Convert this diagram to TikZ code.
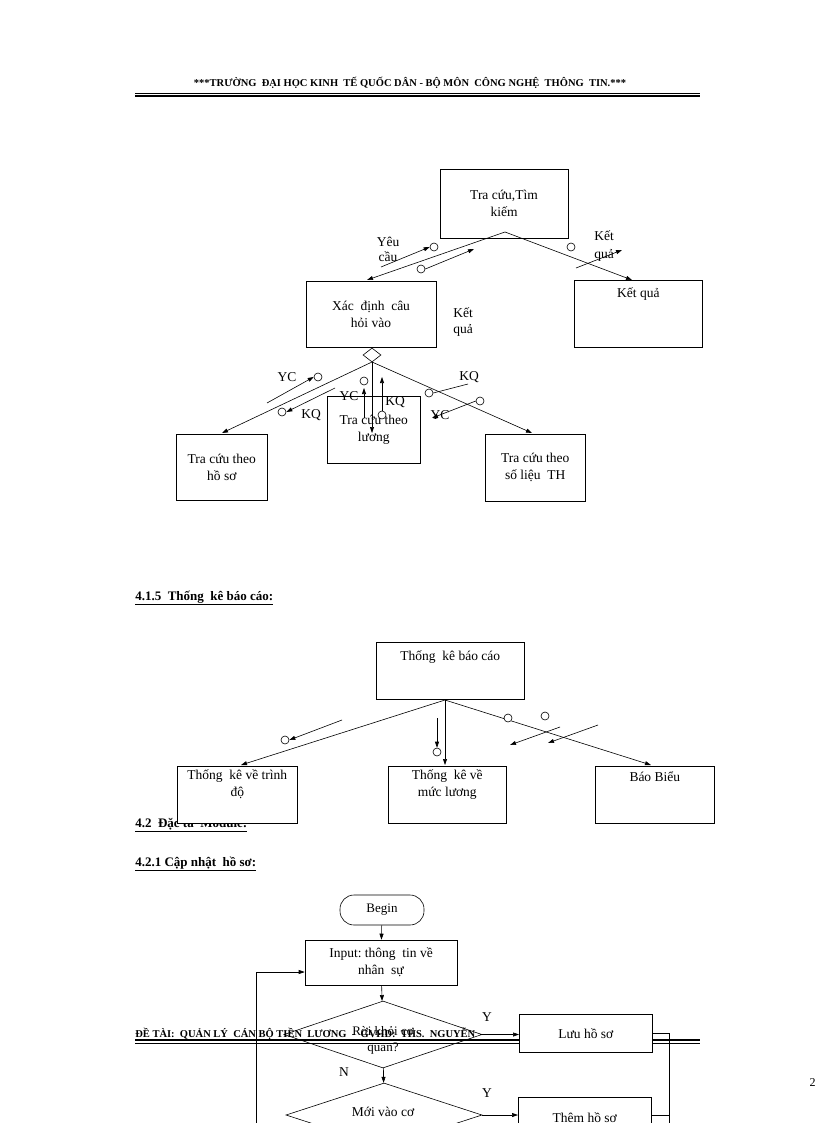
\documentclass[tikz,border=0pt]{standalone}
\usepackage{fontspec}
\setmainfont{Liberation Serif}
\usetikzlibrary{shapes.geometric,arrows.meta}
\begin{document}
\begin{tikzpicture}[x=1pt,y=-1pt,
  box/.style={draw,fill=white,inner sep=0pt,align=center,font=\fontsize{13.5}{17}\selectfont},
  lbl/.style={inner sep=0pt,font=\fontsize{13.5}{15}\selectfont},
  sec/.style={inner sep=0pt,anchor=west,font=\bfseries\fontsize{13}{15}\selectfont},
  ar/.style={-{Triangle[length=6pt,width=4pt]}},
  cir/.style={draw,circle,minimum size=8pt,inner sep=0pt,fill=white},
  line width=0.6pt]
\useasboundingbox (0,0) rectangle (816,1123);
% header
\node[inner sep=0pt,font=\bfseries\fontsize{10.5}{12}\selectfont] (hdr) at (410,83) {***TRƯỜNG\ \ ĐẠI HỌC KINH\ \ TẾ QUỐC DÂN - BỘ MÔN\ \ CÔNG NGHỆ\ \ THÔNG\ \ TIN.***};
\coordinate (h1) at (135,96); \coordinate (h2) at (700,96);
\draw[line width=1.6pt] (h1) -- (h2);
\draw[line width=0.5pt] ([yshift=3]h1) -- ([yshift=3]h2);
% diagram 1
\node[box,minimum width=128,minimum height=69] (A) at (504,203.5) {Tra cứu,Tìm\\kiếm};
\node[box,minimum width=130,minimum height=66] (B) at (371,314) {Xác\ \ định\ \ câu\\hỏi vào};
\node[box,minimum width=128,minimum height=67,anchor=north west] (C) at (574,280) {Kết quả\\[25pt]};
\node[draw,diamond,minimum width=18,minimum height=14,inner sep=0pt,fill=white] (dm) at (372,355) {};
\node[box,minimum width=91,minimum height=66,anchor=north west] (D) at (176,434) {Tra cứu theo\\hồ sơ};
\node[box,minimum width=93,minimum height=67,anchor=north west] (E) at (327,396) {Tra cứu theo\\lương};
\node[box,minimum width=100,minimum height=67,anchor=north west] (F) at (485,434) {Tra cứu theo\\số liệu\ \ TH};
\coordinate (ap) at (505,232);
\coordinate (bt) at (367,280); \coordinate (ct) at (632,280);
\draw[ar] (ap) -- (bt);
\draw[ar] (ap) -- (ct);
\node[lbl] (t1) at (388,242) {Yêu};
\node[lbl] (t2) at (388,257) {cầu};
\node[cir] (c1) at (434,247) {}; \coordinate (p1) at (381,267);
\draw[ar] (p1) -- (c1.west);
\node[cir] (c2) at (421,269) {}; \coordinate (p2) at (474,249);
\draw[ar] (c2.east) -- (p2);
\node[cir] (c3) at (571,247) {};
\node[lbl] (t3) at (604,236) {Kết};
\node[lbl] (t4) at (604,255) {quả};
\coordinate (p3a) at (576,268); \coordinate (p3b) at (622,250);
\draw[ar] (p3a) -- (p3b);
\node[lbl] (t5) at (463,313) {Kết};
\node[lbl] (t6) at (463,330) {quả};
% lower
\coordinate (db) at (372,362);
\coordinate (dt) at (222,433); \coordinate (ft) at (532,433); \coordinate (et) at (372,433);
\draw[ar] (db) -- (dt);
\draw[ar] (db) -- (ft);
\draw[ar] (db) -- (et);
\node[cir] (c4) at (364,381) {}; \coordinate (p4a) at (364,418); \coordinate (p4b) at (364,388);
\draw[ar] (p4a) -- (p4b);
\node[cir] (c5) at (382,415) {}; \coordinate (p5b) at (382,377);
\draw[ar] (c5.north) -- (p5b);
\node[lbl] (t7) at (349,396) {YC};
\node[lbl] (t8) at (395,402) {KQ};
\node[lbl] (t9) at (287,377) {YC};
\coordinate (p6) at (267,403); \node[cir] (c6) at (318,377) {};
\draw[ar] (p6) -- (c6.west);
\coordinate (p7) at (335,388); \node[cir] (c7) at (282,412) {};
\draw[ar] (p7) -- (c7.east);
\node[lbl] (t10) at (311,415) {KQ};
\node[lbl] (t11) at (469,377) {KQ};
\node[cir] (c8) at (429,393) {}; \coordinate (p8) at (468,384);
\draw (p8) -- (c8.east);
\node[cir] (c9) at (480,401) {}; \coordinate (p9) at (432,418);
\draw[ar] (c9.west) -- (p9);
\node[lbl] (t12) at (440,415) {YC};
% section 4.1.5
\node[sec] (s1) at (135,598) {\underline{4.1.5\ \ Thống\ \ kê báo cáo:}};
\node[box,minimum width=148,minimum height=57,anchor=north west] (G) at (376,642) {Thống\ \ kê báo cáo\\[14pt]};
\node[sec] (s2) at (135,825) {\underline{4.2\ \ Đặc tả\ \ Module:}};
\node[sec] (s3) at (135,864) {\underline{4.2.1 Cập nhật\ \ hồ sơ:}};
\node[box,minimum width=120,minimum height=57,anchor=north west] (H) at (177,766) {Thống\ \ kê về trình\\độ\\[6pt]};
\node[box,minimum width=118,minimum height=57,anchor=north west] (I) at (388,766) {Thống\ \ kê về\\mức lương\\[6pt]};
\node[box,minimum width=119,minimum height=57,anchor=north west] (J) at (595,766) {Báo Biểu\\[20pt]};
\coordinate (gp) at (445,700);
\coordinate (ht) at (241,765); \coordinate (it) at (445,765); \coordinate (jt) at (651,765);
\draw[ar] (gp) -- (ht);
\draw[ar] (gp) -- (it);
\draw[ar] (gp) -- (jt);
\coordinate (q1) at (342,720); \node[cir] (c10) at (285,740) {};
\draw[ar] (q1) -- (c10.east);
\coordinate (q2) at (437,718); \node[cir] (c11) at (437,752) {};
\draw[ar] (q2) -- (c11.north);
\node[cir] (c12) at (508,718) {};
\node[cir] (c13) at (545,716) {};
\coordinate (q3a) at (560,727); \coordinate (q3b) at (510,745);
\draw[ar] (q3a) -- (q3b);
\coordinate (q4a) at (598,725); \coordinate (q4b) at (548,743);
\draw[ar] (q4a) -- (q4b);
% flowchart
\node[draw,rounded corners=14pt,minimum width=84,minimum height=30,inner sep=0pt,font=\fontsize{13}{15}\selectfont] (bg) at (382,910) {Begin};
\node[box,minimum width=152,minimum height=45] (in) at (381,962.5) {Input:\ thông\ \ tin\ về\\nhân\ \ sự};
% footer (under diagram)
\node[inner sep=0pt,anchor=west,font=\bfseries\fontsize{10.5}{12}\selectfont] (ftr) at (135,1034) {ĐỀ TÀI:\ \ QUẢN LÝ\ \ CÁN BỘ TIỀN\ \ LƯƠNG\ \ -\ \ GVHD:\ \ THS.\ \ NGUYỄN\ \ \ \ \ \ \ \ \ \ \ \ \ \ \ \ \ \ \ \ \ \ \ \ \ \ NG.};
\coordinate (f1) at (135,1043); \coordinate (f2) at (700,1043);
\draw[line width=0.5pt] (f1) -- (f2);
\draw[line width=1.6pt] ([yshift=3]f1) -- ([yshift=3]f2);
\node[draw,diamond,aspect=2.9,minimum width=198,minimum height=67,inner sep=0pt] (d1) at (383,1034.5) {};
\node[lbl,align=center,font=\fontsize{13}{16}\selectfont] (d1t) at (383,1040) {Rời khỏi cơ\\quan?};
\node[box,minimum width=133,minimum height=38,anchor=north west] (lu) at (519,1014) {Lưu hồ sơ};
\node[draw,diamond,aspect=2.9,minimum width=196,minimum height=64,inner sep=0pt] (d2) at (384,1115) {};
\node[lbl] (d2t) at (383,1112) {Mới vào cơ};
\node[box,minimum width=133,minimum height=40,anchor=north west] (th) at (518,1097) {Thêm hồ sơ};
\node[lbl] (y1) at (487,1017) {Y};
\node[lbl] (n1) at (344,1072) {N};
\node[lbl] (y2) at (487,1093) {Y};
\node[inner sep=0pt,anchor=east,font=\fontsize{12}{14}\selectfont] (pg) at (816,1083) {2};
\draw[ar] (bg) -- (in);
\draw[ar] (in) -- (d1);
\draw[ar] (d1.east) -- (lu.west |- d1.east);
\draw[ar] (d1) -- (d2);
\draw[ar] (d2.east) -- (th.west |- d2.east);
\coordinate (r1) at (669,1033); \coordinate (r2) at (669,1123);
\draw (lu.east |- r1) -- (r1) -- (r2);
\coordinate (r3) at (669,1115);
\draw (th.east |- r3) -- (r3);
\coordinate (l1) at (256,1123); \coordinate (l2) at (256,972);
\draw[ar] (l1) -- (l2) -- (in.west |- l2);
\end{tikzpicture}
\end{document}
